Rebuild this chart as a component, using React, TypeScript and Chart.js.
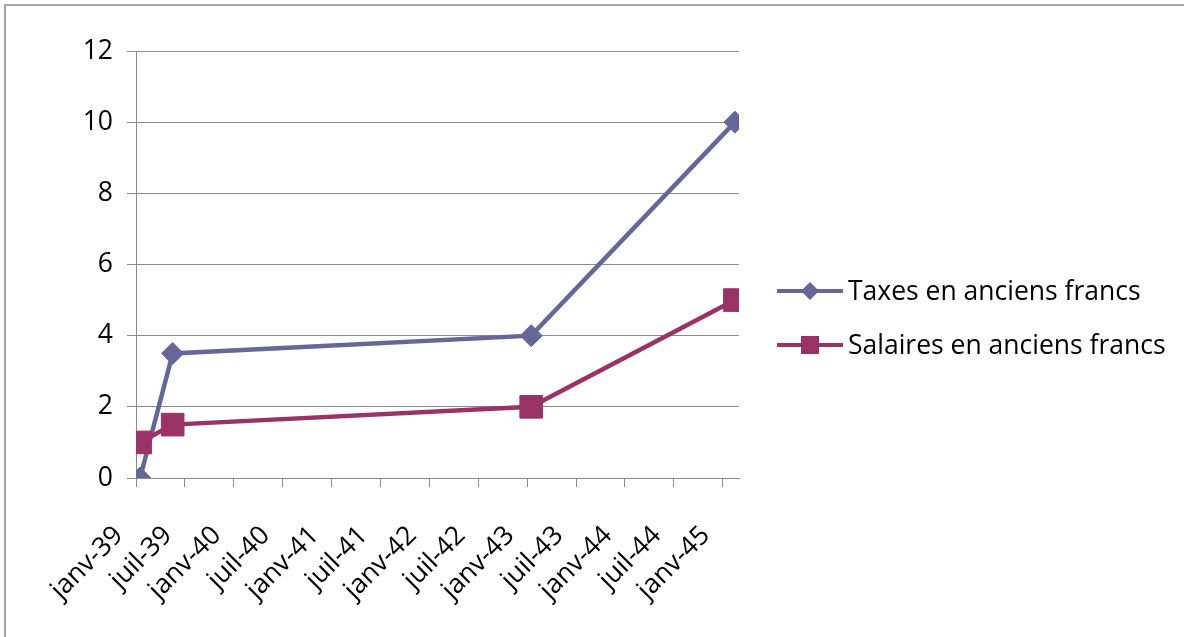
import React, { useEffect, useRef } from "react";
import { Chart, registerables } from "chart.js";

Chart.register(...registerables);

// ---- data ----
const tickLabels = [
  "janv-39", "juil-39", "janv-40", "juil-40", "janv-41", "juil-41", "janv-42",
  "juil-42", "janv-43", "juil-43", "janv-44", "juil-44", "janv-45",
];
const pointDates = ["1939-01", "1939-05", "1943-01", "1945-02"];
const taxes = [0, 3.5, 4, 10];
const salaires = [1, 1.5, 2, 5];
const seriesNames = ["Taxes en anciens francs", "Salaires en anciens francs"];
const yTicks = [0, 2, 4, 6, 8, 10, 12];

// ---- styles ----
const FONT = "'Open Sans', Lato, sans-serif";
const FONT_SIZE = 26.5;
const GRID = "#8c8c8c";
const TAX_COLOR = "#666699";
const SAL_COLOR = "#993366";

// month position on a month-based date axis (point sits in the middle of its month)
const monthPos = (d: string) => {
  const [y, m] = d.split("-").map(Number);
  return (y - 1939) * 12 + (m - 1) + 0.5;
};

const framePlugin = {
  id: "frame",
  beforeDraw(chart: any) {
    const { ctx, width, height } = chart;
    ctx.save();
    ctx.fillStyle = "#ffffff";
    ctx.fillRect(0, 0, width, height);
    ctx.strokeStyle = "#a6a6a6";
    ctx.lineWidth = 2;
    ctx.beginPath();
    ctx.moveTo(5, height + 5);
    ctx.lineTo(5, 5);
    ctx.lineTo(width + 5, 5);
    ctx.stroke();
    ctx.restore();
  },
};

const legendPlugin = {
  id: "excelLegend",
  afterDraw(chart: any) {
    const { ctx, chartArea } = chart;
    const sets = chart.data.datasets;
    const lineH = 54;
    const startY = chart.height / 2 - (lineH * (sets.length - 1)) / 2 - 0.5;
    const x0 = chartArea.right + 38;
    sets.forEach((ds: any, i: number) => {
      const y = startY + i * lineH;
      ctx.save();
      ctx.strokeStyle = ds.borderColor;
      ctx.lineWidth = 4;
      ctx.beginPath();
      ctx.moveTo(x0, y);
      ctx.lineTo(x0 + 66, y);
      ctx.stroke();
      ctx.fillStyle = ds.backgroundColor;
      const cx = x0 + 33;
      ctx.beginPath();
      if (ds.pointStyle === "rectRot") {
        const r = 9;
        ctx.moveTo(cx - r, y);
        ctx.lineTo(cx, y - r);
        ctx.lineTo(cx + r, y);
        ctx.lineTo(cx, y + r);
        ctx.closePath();
      } else {
        const h = 9;
        ctx.rect(cx - h, y - h, 2 * h, 2 * h);
      }
      ctx.fill();
      ctx.fillStyle = "#000";
      ctx.font = `${FONT_SIZE}px ${FONT}`;
      ctx.textAlign = "left";
      ctx.textBaseline = "alphabetic";
      ctx.fillText(ds.label, x0 + 71, y + 9);
      ctx.restore();
    });
  },
};

export default function App() {
  const ref = useRef<HTMLCanvasElement | null>(null);

  useEffect(() => {
    document.body.style.margin = "0";
    const canvas = ref.current;
    if (!canvas) return;
    const font = { family: FONT, size: FONT_SIZE };
    const chart = new Chart(canvas, {
      type: "line",
      data: {
        datasets: [
          {
            label: seriesNames[0],
            data: pointDates.map((d, i) => ({ x: monthPos(d), y: taxes[i] })),
            borderColor: TAX_COLOR,
            backgroundColor: TAX_COLOR,
            borderWidth: 4.5,
            pointStyle: "rectRot",
            pointRadius: 11,
            pointBorderWidth: 1,
            pointBackgroundColor: TAX_COLOR,
            pointBorderColor: TAX_COLOR,
            tension: 0,
            order: 1,
          },
          {
            label: seriesNames[1],
            data: pointDates.map((d, i) => ({ x: monthPos(d), y: salaires[i] })),
            borderColor: SAL_COLOR,
            backgroundColor: SAL_COLOR,
            borderWidth: 4.5,
            pointStyle: "rect",
            pointRadius: 16,
            pointBorderWidth: 1,
            pointBackgroundColor: SAL_COLOR,
            pointBorderColor: SAL_COLOR,
            tension: 0,
            order: 0,
          },
        ] as any,
      },
      options: {
        responsive: false,
        maintainAspectRatio: false,
        animation: false,
        devicePixelRatio: 1,
        layout: { padding: { left: 0, top: 51, right: 445, bottom: 0 } },
        plugins: {
          legend: { display: false },
          tooltip: { enabled: false },
        },
        scales: {
          x: {
            type: "linear",
            min: 0,
            max: 74,
            afterBuildTicks: (s: any) => {
              s.ticks = tickLabels.map((_, i) => ({ value: i * 6 }));
            },
            afterFit: (s: any) => {
              s.height = 159;
            },
            ticks: {
              autoSkip: false,
              minRotation: 45,
              maxRotation: 45,
              padding: 33,
              labelOffset: -17,
              color: "#000",
              font,
              callback: (_v: any, i: number) => tickLabels[i],
            },
            grid: {
              drawOnChartArea: false,
              drawTicks: true,
              tickLength: 9,
              color: GRID,
              lineWidth: 1,
            },
            border: { color: GRID, width: 1 },
          },
          y: {
            min: 0,
            max: 12,
            afterBuildTicks: (s: any) => {
              s.ticks = yTicks.map((v) => ({ value: v }));
            },
            afterFit: (s: any) => {
              s.width = 136;
            },
            ticks: { padding: 14, color: "#000", font },
            grid: { color: GRID, lineWidth: 1, tickLength: 9 },
            border: { color: GRID, width: 1 },
          },
        },
      } as any,
      plugins: [framePlugin, legendPlugin],
    });
    return () => chart.destroy();
  }, []);

  return (
    <canvas
      ref={ref}
      width={1184}
      height={637}
      style={{ display: "block", width: 1184, height: 637 }}
    />
  );
}
